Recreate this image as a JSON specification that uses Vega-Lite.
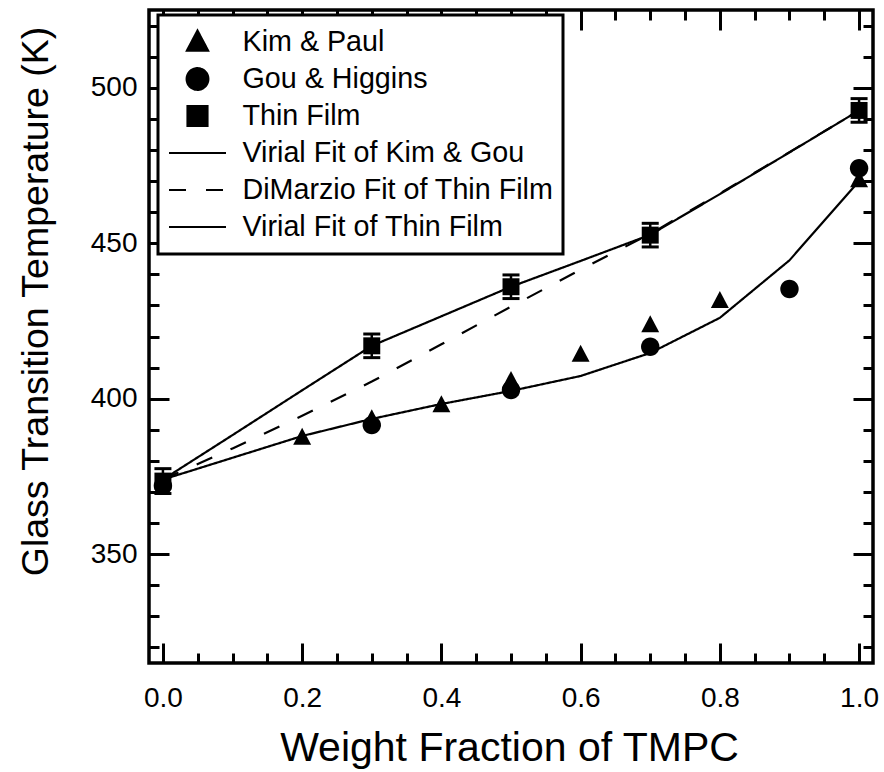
{
  "$schema": "https://vega.github.io/schema/vega-lite/v6.json",
  "width": 724,
  "height": 653,
  "autosize": "none",
  "padding": {"left": 149, "top": 10, "right": 11, "bottom": 109},
  "background": "white",
  "config": {
    "view": {"stroke": "black", "strokeWidth": 3.5},
    "axis": {
      "grid": false, "domain": false, "tickColor": "black", "tickWidth": 3,
      "labelColor": "black", "labelFont": "Liberation Sans", "labelFontSize": 28,
      "titleFont": "Liberation Sans", "titleColor": "black", "titleFontWeight": "normal",
      "labelFlush": false, "labelOverlap": false
    },
    "legend": {
      "orient": "none", "legendX": 9, "legendY": 5,
      "labelFontSize": 28.7, "labelFont": "Liberation Sans", "labelColor": "black", "labelLimit": 600,
      "symbolSize": 3249, "clipHeight": 35, "rowPadding": 2, "padding": 9.5,
      "strokeColor": "black", "strokeWidth": 3, "fillColor": "white", "cornerRadius": 0,
      "labelOffset": 15, "symbolStrokeWidth": 2, "symbolStrokeColor": "black", "symbolFillColor": "black"
    }
  },
  "datasets": {
    "pts": [
      {"series": "Kim & Paul", "x": 0.2, "y": 387.5},
      {"series": "Kim & Paul", "x": 0.3, "y": 393.5},
      {"series": "Kim & Paul", "x": 0.4, "y": 398},
      {"series": "Kim & Paul", "x": 0.5, "y": 405.8},
      {"series": "Kim & Paul", "x": 0.6, "y": 414.2},
      {"series": "Kim & Paul", "x": 0.7, "y": 423.7},
      {"series": "Kim & Paul", "x": 0.8, "y": 431.5},
      {"series": "Kim & Paul", "x": 1.0, "y": 470.3},
      {"series": "Gou & Higgins", "x": 0.0, "y": 372},
      {"series": "Gou & Higgins", "x": 0.3, "y": 391.5},
      {"series": "Gou & Higgins", "x": 0.5, "y": 402.8},
      {"series": "Gou & Higgins", "x": 0.7, "y": 416.7},
      {"series": "Gou & Higgins", "x": 0.9, "y": 435.3},
      {"series": "Gou & Higgins", "x": 1.0, "y": 474.1},
      {"series": "Thin Film", "x": 0.0, "y": 373.5, "lo": 369.5, "hi": 377.5},
      {"series": "Thin Film", "x": 0.3, "y": 417, "lo": 413.2, "hi": 420.8},
      {"series": "Thin Film", "x": 0.5, "y": 436, "lo": 432.2, "hi": 439.8},
      {"series": "Thin Film", "x": 0.7, "y": 452.6, "lo": 448.8, "hi": 456.4},
      {"series": "Thin Film", "x": 1.0, "y": 492.7, "lo": 488.9, "hi": 496.5}
    ],
    "fits": [
      {"series": "DiMarzio Fit of Thin Film", "x": 0.0, "y": 374},
      {"series": "DiMarzio Fit of Thin Film", "x": 0.1, "y": 384},
      {"series": "DiMarzio Fit of Thin Film", "x": 0.2, "y": 394.5},
      {"series": "DiMarzio Fit of Thin Film", "x": 0.3, "y": 405.5},
      {"series": "DiMarzio Fit of Thin Film", "x": 0.4, "y": 417.5},
      {"series": "DiMarzio Fit of Thin Film", "x": 0.5, "y": 429.6},
      {"series": "DiMarzio Fit of Thin Film", "x": 0.6, "y": 441.5},
      {"series": "DiMarzio Fit of Thin Film", "x": 0.7, "y": 453},
      {"series": "DiMarzio Fit of Thin Film", "x": 0.8, "y": 466},
      {"series": "DiMarzio Fit of Thin Film", "x": 0.9, "y": 479.3},
      {"series": "DiMarzio Fit of Thin Film", "x": 1.0, "y": 492.7},
      {"series": "Virial Fit of Kim & Gou", "x": 0.0, "y": 374},
      {"series": "Virial Fit of Kim & Gou", "x": 0.1, "y": 381},
      {"series": "Virial Fit of Kim & Gou", "x": 0.2, "y": 388},
      {"series": "Virial Fit of Kim & Gou", "x": 0.3, "y": 393.5},
      {"series": "Virial Fit of Kim & Gou", "x": 0.4, "y": 398.3},
      {"series": "Virial Fit of Kim & Gou", "x": 0.5, "y": 402.5},
      {"series": "Virial Fit of Kim & Gou", "x": 0.6, "y": 407.3},
      {"series": "Virial Fit of Kim & Gou", "x": 0.7, "y": 414.7},
      {"series": "Virial Fit of Kim & Gou", "x": 0.8, "y": 426},
      {"series": "Virial Fit of Kim & Gou", "x": 0.9, "y": 444.5},
      {"series": "Virial Fit of Kim & Gou", "x": 1.0, "y": 470},
      {"series": "Virial Fit of Thin Film", "x": 0.0, "y": 374},
      {"series": "Virial Fit of Thin Film", "x": 0.1, "y": 388.3},
      {"series": "Virial Fit of Thin Film", "x": 0.2, "y": 402.7},
      {"series": "Virial Fit of Thin Film", "x": 0.3, "y": 417},
      {"series": "Virial Fit of Thin Film", "x": 0.4, "y": 426.5},
      {"series": "Virial Fit of Thin Film", "x": 0.5, "y": 436},
      {"series": "Virial Fit of Thin Film", "x": 0.6, "y": 444.3},
      {"series": "Virial Fit of Thin Film", "x": 0.7, "y": 452.7},
      {"series": "Virial Fit of Thin Film", "x": 0.8, "y": 465.8},
      {"series": "Virial Fit of Thin Film", "x": 0.9, "y": 479.2},
      {"series": "Virial Fit of Thin Film", "x": 1.0, "y": 492.7}
    ]
  },
  "resolve": {"axis": {"x": "independent", "y": "independent"}},
  "layer": [
    {
      "data": {"name": "fits"},
      "mark": {"type": "line", "color": "black", "strokeWidth": 2.2},
      "encoding": {
        "x": {"field": "x", "type": "quantitative",
          "scale": {"domain": [-0.02, 1.02], "nice": false, "zero": false},
          "axis": {"orient": "bottom", "values": [0, 0.2, 0.4, 0.6, 0.8, 1.0], "format": ".1f",
            "ticks": false, "labelPadding": 21,
            "title": "Weight Fraction of TMPC", "titleFontSize": 41,
            "titleX": 360, "titleY": 97, "titleAlign": "center", "titleBaseline": "alphabetic"}},
        "y": {"field": "y", "type": "quantitative",
          "scale": {"domain": [315, 525], "nice": false, "zero": false},
          "axis": {"orient": "left", "values": [350, 400, 450, 500], "ticks": false, "labelPadding": 12,
            "title": "Glass Transition Temperature (K)", "titleFontSize": 37.5, "titleAngle": 270,
            "titleX": -113, "titleY": 291, "titleAlign": "center", "titleBaseline": "middle"}},
        "strokeDash": {"field": "series", "type": "nominal",
          "scale": {
            "domain": ["Kim & Paul", "Gou & Higgins", "Thin Film", "Virial Fit of Kim & Gou", "DiMarzio Fit of Thin Film", "Virial Fit of Thin Film"],
            "range": [[1, 0], [1, 0], [1, 0], [1, 0], [17, 20], [1, 0]]
          },
          "legend": {"title": null}},
        "order": {"field": "x", "type": "quantitative"}
      }
    },
    {
      "data": {"name": "pts"},
      "transform": [{"filter": "isValid(datum.lo)"}],
      "mark": {"type": "rule", "color": "black", "strokeWidth": 2.5},
      "encoding": {
        "x": {"field": "x", "type": "quantitative",
          "scale": {"domain": [-0.02, 1.02], "nice": false, "zero": false},
          "axis": {"orient": "bottom", "values": [0, 0.2, 0.4, 0.6, 0.8, 1.0], "labels": false, "tickSize": -20, "title": null}},
        "y": {"field": "lo", "type": "quantitative",
          "scale": {"domain": [315, 525], "nice": false, "zero": false},
          "axis": {"orient": "left", "values": [350, 400, 450, 500], "labels": false, "tickSize": -20, "title": null}},
        "y2": {"field": "hi"}
      }
    },
    {
      "data": {"name": "pts"},
      "transform": [{"filter": "isValid(datum.lo)"}],
      "mark": {"type": "tick", "orient": "horizontal", "color": "black", "size": 17, "thickness": 3, "opacity": 1},
      "encoding": {
        "x": {"field": "x", "type": "quantitative",
          "scale": {"domain": [-0.02, 1.02], "nice": false, "zero": false},
          "axis": {"orient": "bottom", "values": [0.05, 0.1, 0.15, 0.25, 0.3, 0.35, 0.45, 0.5, 0.55, 0.65, 0.7, 0.75, 0.85, 0.9, 0.95], "labels": false, "tickSize": -10, "title": null}},
        "y": {"field": "lo", "type": "quantitative",
          "scale": {"domain": [315, 525], "nice": false, "zero": false},
          "axis": {"orient": "left", "values": [320, 330, 340, 360, 370, 380, 390, 410, 420, 430, 440, 460, 470, 480, 490, 510, 520], "labels": false, "tickSize": -10, "title": null}}
      }
    },
    {
      "data": {"name": "pts"},
      "transform": [{"filter": "isValid(datum.hi)"}],
      "mark": {"type": "tick", "orient": "horizontal", "color": "black", "size": 17, "thickness": 3, "opacity": 1},
      "encoding": {
        "x": {"field": "x", "type": "quantitative",
          "scale": {"domain": [-0.02, 1.02], "nice": false, "zero": false},
          "axis": {"orient": "top", "values": [0, 0.2, 0.4, 0.6, 0.8, 1.0], "labels": false, "tickSize": -20, "title": null}},
        "y": {"field": "hi", "type": "quantitative",
          "scale": {"domain": [315, 525], "nice": false, "zero": false},
          "axis": {"orient": "right", "values": [350, 400, 450, 500], "labels": false, "tickSize": -20, "title": null}}
      }
    },
    {
      "data": {"name": "pts"},
      "mark": {"type": "point", "filled": true, "color": "black", "opacity": 1, "size": 2350, "strokeWidth": 0},
      "encoding": {
        "x": {"field": "x", "type": "quantitative",
          "scale": {"domain": [-0.02, 1.02], "nice": false, "zero": false},
          "axis": {"orient": "top", "values": [0.05, 0.1, 0.15, 0.25, 0.3, 0.35, 0.45, 0.5, 0.55, 0.65, 0.7, 0.75, 0.85, 0.9, 0.95], "labels": false, "tickSize": -10, "title": null}},
        "y": {"field": "y", "type": "quantitative",
          "scale": {"domain": [315, 525], "nice": false, "zero": false},
          "axis": {"orient": "right", "values": [320, 330, 340, 360, 370, 380, 390, 410, 420, 430, 440, 460, 470, 480, 490, 510, 520], "labels": false, "tickSize": -10, "title": null}},
        "shape": {"field": "series", "type": "nominal",
          "scale": {
            "domain": ["Kim & Paul", "Gou & Higgins", "Thin Film", "Virial Fit of Kim & Gou", "DiMarzio Fit of Thin Film", "Virial Fit of Thin Film"],
            "range": [
              "M0,-0.4L0.37,0.3L-0.37,0.3Z",
              "M0.38,0A0.38,0.38,0,1,1,-0.38,0A0.38,0.38,0,1,1,0.38,0Z",
              "M-0.35,-0.35H0.35V0.35H-0.35Z",
              "M-1,0H1",
              "M-1,0H1",
              "M-1,0H1"
            ]
          },
          "legend": {
            "title": null,
            "encoding": {"symbols": {
              "fill": {"value": "black"}, "stroke": {"value": "black"},
              "strokeWidth": {"value": 2.2},
              "opacity": {"value": 1}
            }}
          }
        }
      }
    }
  ]
}
